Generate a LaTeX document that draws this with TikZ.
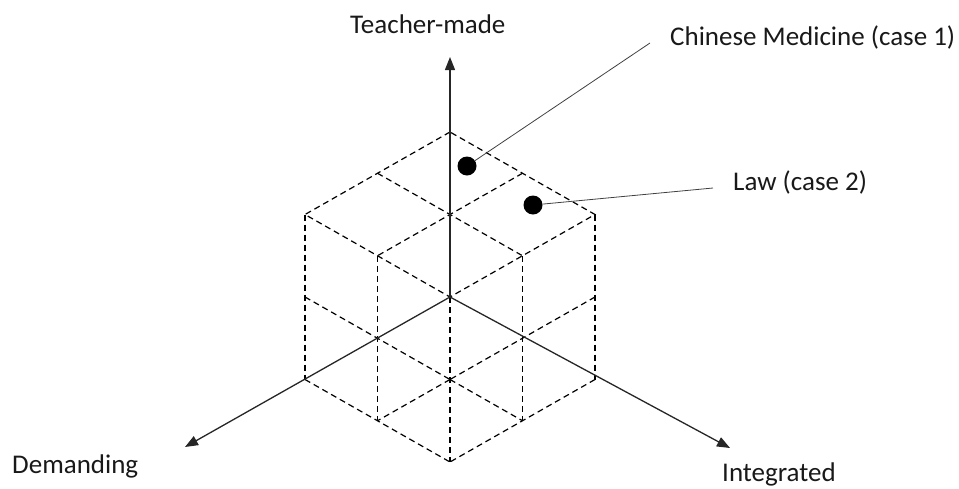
\documentclass[tikz,border=0pt]{standalone}
\usepackage{fontspec}
\setmainfont{Carlito}
\usetikzlibrary{arrows.meta}
\begin{document}
\begin{tikzpicture}[x=1pt,y=-1pt,
  grid/.style={draw=black, line width=1.2pt, dash pattern=on 6pt off 4pt},
  axis/.style={draw=black!85, line width=1.3pt, -{Triangle[length=13pt,width=10pt]}},
  dot/.style={circle, fill=black, inner sep=0pt, minimum size=19pt},
  lbl/.style={anchor=base west, inner sep=0pt, font=\fontsize{27}{32}\selectfont, text=black!90},
  leader/.style={draw=black!75, line width=0.8pt}]
\useasboundingbox (0,0) rectangle (959,488);
\coordinate (O) at (450,297);
\begin{scope}[shift={(450,297)}, x={(72.5pt,0pt)}, y={(0pt,41.25pt)}]
 \draw[grid] (-2,2) -- (-2,-2);
 \draw[grid] (-1,1) -- (-1,-3);
 \draw[grid] (0,0) -- (0,-4);
 \draw[grid] (1,1) -- (1,-3);
 \draw[grid] (2,2) -- (2,-2);
 \draw[grid] (0,4) -- (-2,2) -- (0,0) -- (2,2) -- cycle;
 \draw[grid] (-1,3) -- (1,1);
 \draw[grid] (1,3) -- (-1,1);
 \draw[grid] (-2,0) -- (0,-2);
 \draw[grid] (-2,-2) -- (0,-4);
 \draw[grid] (2,0) -- (0,-2);
 \draw[grid] (2,-2) -- (0,-4);
 \draw[grid] (0,-2) -- (-1,-3);
 \draw[grid] (0,-2) -- (1,-3);
\end{scope}
\coordinate (TopTip) at (450,57);
\coordinate (DemTip) at (185,447);
\coordinate (IntTip) at (730,448);
\draw[axis] (O) -- (TopTip);
\draw[axis] (O) -- (DemTip);
\draw[axis] (O) -- (IntTip);
\node[dot] (d1) at (467,166) {};
\node[dot] (d2) at (533,205) {};
\node[lbl] (tm) at (350,33) {Teacher-made};
\node[lbl] (cm) at (670,45) {Chinese Medicine (case 1)};
\node[lbl] (law) at (733,190) {Law (case 2)};
\node[lbl] (dem) at (12,473) {Demanding};
\node[lbl] (int) at (722,481) {Integrated};
\coordinate (c1) at (650,43);
\coordinate (c2) at (713,188);
\draw[leader] (d1) -- (c1);
\draw[leader] (d2) -- (c2);
\end{tikzpicture}
\end{document}
